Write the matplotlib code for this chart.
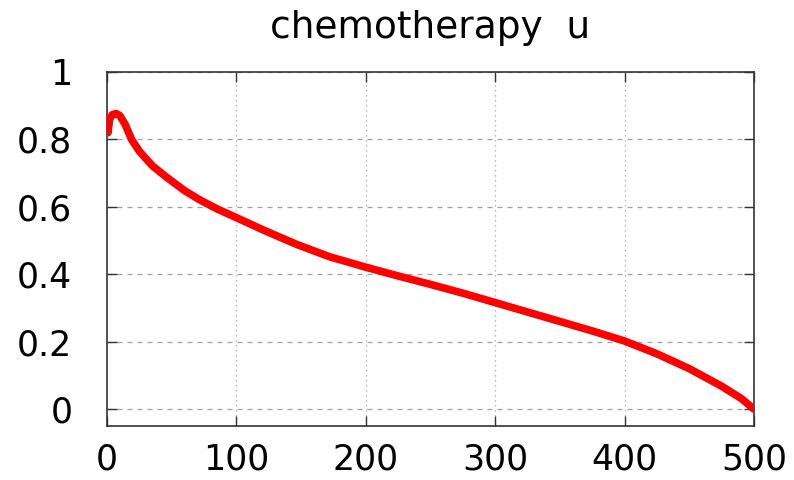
import matplotlib
matplotlib.use("Agg")
import matplotlib.pyplot as plt

title = "chemotherapy  u"
t_vals = [0, 0.8, 2, 4, 7, 10, 14, 19, 25, 35, 46, 60, 72, 85, 100, 121, 147, 172,
          200, 225, 250, 275, 300, 325, 350, 375, 400, 425, 450, 475, 490, 500]
u_vals = [0.85, 0.82, 0.86, 0.873, 0.877, 0.870, 0.845, 0.80, 0.765, 0.722, 0.688,
          0.648, 0.620, 0.594, 0.568, 0.531, 0.488, 0.452, 0.421, 0.395, 0.370,
          0.344, 0.316, 0.288, 0.260, 0.232, 0.202, 0.164, 0.120, 0.068, 0.032, 0.0]
x_ticks = [0, 100, 200, 300, 400, 500]
y_ticks = [0, 0.2, 0.4, 0.6, 0.8, 1]
y_labels = ["0", "0.2", "0.4", "0.6", "0.8", "1"]

plt.rcParams['font.family'] = ['DejaVu Sans']
fig = plt.figure(figsize=(7.94, 4.8), dpi=100)
ax = fig.add_axes([107/794, 1-426/480, (754-107)/794, (426-72)/480])

ax.plot(t_vals, u_vals, color='#ff0000', linewidth=5.5, solid_capstyle='round',
        solid_joinstyle='round', zorder=3)

ax.set_xlim(0, 500)
ax.set_ylim(-0.05, 1)
ax.set_xticks(x_ticks)
ax.set_xticklabels([str(v) for v in x_ticks])
ax.set_yticks(y_ticks)
ax.set_yticklabels(y_labels)

for v in y_ticks:
    ax.axhline(v, color='#a0a0a0', linewidth=0.9, linestyle=(0, (4, 4)), zorder=1)
for v in x_ticks[1:-1]:
    ax.axvline(v, color='#a0a0a0', linewidth=0.9, linestyle=(0, (1, 3)), zorder=1)

ax.tick_params(axis='both', direction='in', length=7, width=1, color='#333333',
               labelsize=25, top=True, right=True)
ax.tick_params(axis='y', pad=25)
ax.tick_params(axis='x', pad=12)
for s in ax.spines.values():
    s.set_color('#333333')
    s.set_linewidth(1.2)

fig.text((107+754)/2/794, 1-38/480, title, ha='center', va='baseline', fontsize=27)

fig.savefig("out.png", dpi=100)
